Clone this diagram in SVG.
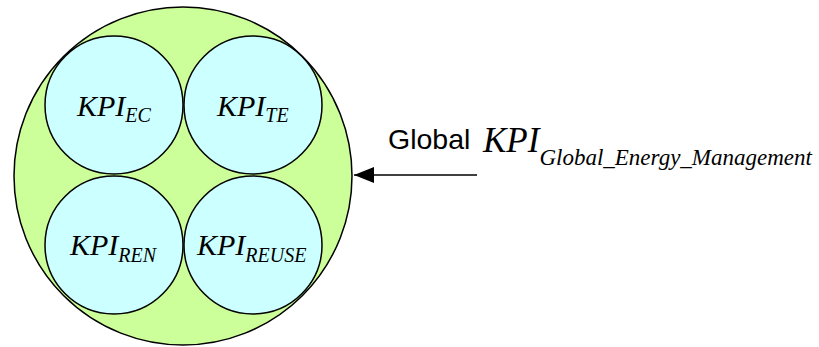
<svg xmlns="http://www.w3.org/2000/svg" width="819" height="347" viewBox="0 0 819 347">
<style>
.outer{fill:#ccff99;stroke:#000;stroke-width:1.5}
.inner{fill:#ccffff;stroke:#000;stroke-width:1.5}
.kpi{font-family:"Liberation Serif","Times New Roman",serif;font-style:italic;font-size:30px;fill:#000}
.sub{font-size:20px}
.big{font-size:35px}
.bigsub{font-size:23px}
.lbl{font-family:"Liberation Sans",Arial,sans-serif;font-size:28.5px;fill:#000}
</style>
<defs>
<marker id="ah" markerWidth="20" markerHeight="16" refX="20" refY="8" orient="auto" markerUnits="userSpaceOnUse">
<path d="M0,0 L20,8 L0,16 Z" fill="#000"/>
</marker>
</defs>
<g id="global">
<circle class="outer" cx="183" cy="176" r="169"/>
</g>
<g id="kpi-ec">
<circle class="inner" cx="114" cy="105" r="69"/>
<text class="kpi" x="77" y="116">KPI<tspan class="sub" dy="6">EC</tspan></text>
</g>
<g id="kpi-te">
<circle class="inner" cx="253" cy="105" r="69"/>
<text class="kpi" x="217" y="116">KPI<tspan class="sub" dy="6">TE</tspan></text>
</g>
<g id="kpi-ren">
<circle class="inner" cx="114" cy="245" r="69"/>
<text class="kpi" x="70" y="255">KPI<tspan class="sub" dy="7">REN</tspan></text>
</g>
<g id="kpi-reuse">
<circle class="inner" cx="253" cy="245" r="69"/>
<text class="kpi" x="197" y="255">KPI<tspan class="sub" dy="7">REUSE</tspan></text>
</g>
<g id="label">
<text class="lbl" x="388" y="149">Global</text>
<text class="kpi big" x="483" y="152">KPI<tspan class="bigsub" dy="13">Global_Energy_Management</tspan></text>
</g>
<g id="connectors">
<line x1="477" y1="175" x2="354" y2="175" stroke="#000" stroke-width="1.5" marker-end="url(#ah)"/>
</g>
</svg>
